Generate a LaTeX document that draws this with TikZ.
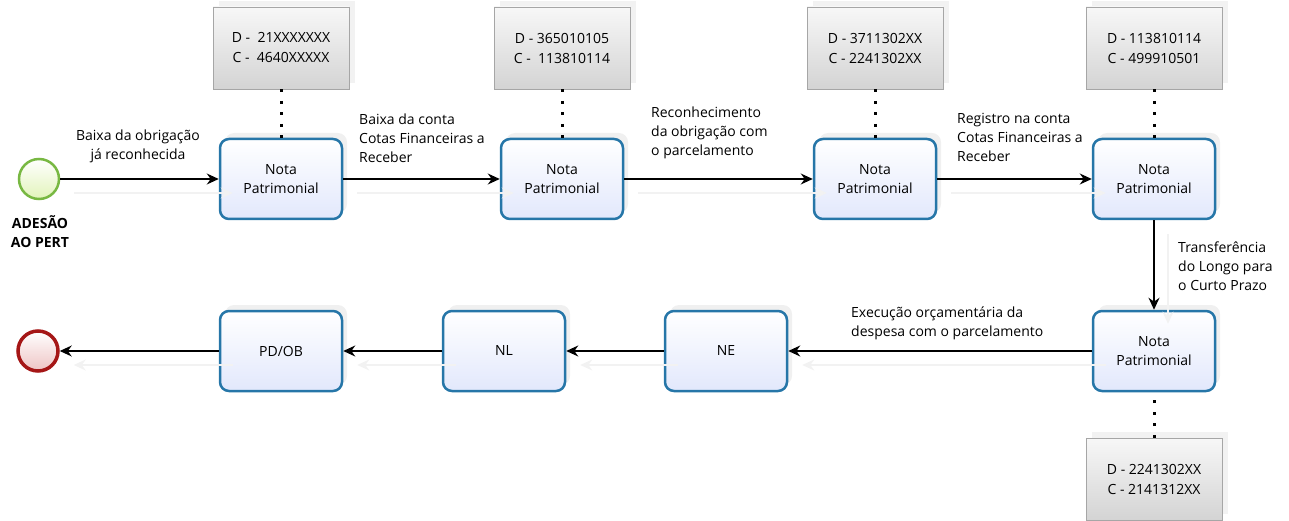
\documentclass[tikz,border=0pt]{standalone}
\usepackage{fontspec}
\setmainfont{Open Sans}
\usetikzlibrary{arrows.meta,shadows}

\definecolor{bordanota}{RGB}{38,118,168}
\definecolor{fundonota}{RGB}{226,232,252}
\definecolor{bordainicio}{RGB}{120,184,66}
\definecolor{fundoinicio}{RGB}{226,244,186}
\definecolor{bordafim}{RGB}{165,22,22}
\definecolor{fundofim}{RGB}{238,196,196}

\tikzset{
  nota/.style={draw=bordanota, line width=2.5, rounded corners=9,
    minimum width=122, minimum height=80, top color=white, bottom color=fundonota,
    align=center, font=\fontsize{14}{19}\selectfont,
    drop shadow={shadow xshift=5, shadow yshift=-6, opacity=0.12}},
  conta/.style={draw=black!35, line width=0.8, minimum width=136, minimum height=82,
    top color=black!3, bottom color=black!17, align=center,
    font=\fontsize{14}{20}\selectfont,
    drop shadow={shadow xshift=6, shadow yshift=-6, opacity=0.1}},
  evento/.style={circle, minimum size=40, inner sep=0},
  rotulo/.style={align=left, anchor=west, inner sep=0, font=\fontsize{14}{19}\selectfont},
  fluxo/.style={-{Stealth[length=12,width=11]}, line width=1.2,
    preaction={draw=black!5, line width=1.2, transform canvas={shift={(14,14)}}}},
  ligacao/.style={line width=3, dash pattern=on 3 off 8.5, line cap=butt}
}

\begin{document}
\begin{tikzpicture}[x=1pt, y=-1pt]
  \useasboundingbox (0,0) rectangle (1289,521);

  % eventos
  \node[evento, draw=bordainicio, line width=2.5, top color=white, bottom color=fundoinicio] (inicio) at (39,179) {};
  \node[evento, draw=bordafim, line width=3.5, top color=white, bottom color=fundofim] (fim) at (38,351) {};
  \node[align=center, inner sep=0, font=\fontsize{14}{19}\selectfont\bfseries] (adesao) at (40,232) {ADESÃO\\AO PERT};

  % notas
  \node[nota] (np1) at (281,179) {Nota\\Patrimonial};
  \node[nota] (np2) at (562,179) {Nota\\Patrimonial};
  \node[nota] (np3) at (875,179) {Nota\\Patrimonial};
  \node[nota] (np4) at (1154,179) {Nota\\Patrimonial};
  \node[nota] (np5) at (1154,351) {Nota\\Patrimonial};
  \node[nota] (ne) at (726,351) {NE};
  \node[nota] (nl) at (504,351) {NL};
  \node[nota] (pdob) at (281,351) {PD/OB};

  % contas
  \node[conta] (c1) at (281,48) {D -\ \ 21XXXXXXX\\C -\ \ 4640XXXXX};
  \node[conta] (c2) at (562,48) {D - 365010105\\C -\ \ 113810114};
  \node[conta] (c3) at (875,48) {D - 3711302XX\\C - 2241302XX};
  \node[conta] (c4) at (1154,48) {D - 113810114\\C - 499910501};
  \node[conta] (c5) at (1154,479) {D - 2241302XX\\C - 2141312XX};

  \foreach \c/\n in {c1/np1, c2/np2, c3/np3, c4/np4, c5/np5}
    \draw[ligacao] (\c) -- (\n);

  \draw[fluxo] (inicio) -- (np1);
  \draw[fluxo] (np1) -- (np2);
  \draw[fluxo] (np2) -- (np3);
  \draw[fluxo] (np3) -- (np4);
  \draw[fluxo] (np4) -- (np5);
  \draw[fluxo] (np5) -- (ne);
  \draw[fluxo] (ne) -- (nl);
  \draw[fluxo] (nl) -- (pdob);
  \draw[fluxo] (pdob) -- (fim);

  % rotulos
  \node[rotulo, align=center, anchor=center] (r1) at (138,146) {Baixa da obrigação\\já reconhecida};
  \node[rotulo] (r2) at (359,138) {Baixa da conta\\Cotas Financeiras a\\Receber};
  \node[rotulo] (r3) at (651,133) {Reconhecimento\\da obrigação com\\o parcelamento};
  \node[rotulo] (r4) at (957,137) {Registro na conta\\Cotas Financeiras a\\Receber};
  \node[rotulo] (r5) at (1178,266) {Transferência\\do Longo para\\o Curto Prazo};
  \node[rotulo] (r6) at (851,323) {Execução orçamentária da\\despesa com o parcelamento};

\end{tikzpicture}
\end{document}
